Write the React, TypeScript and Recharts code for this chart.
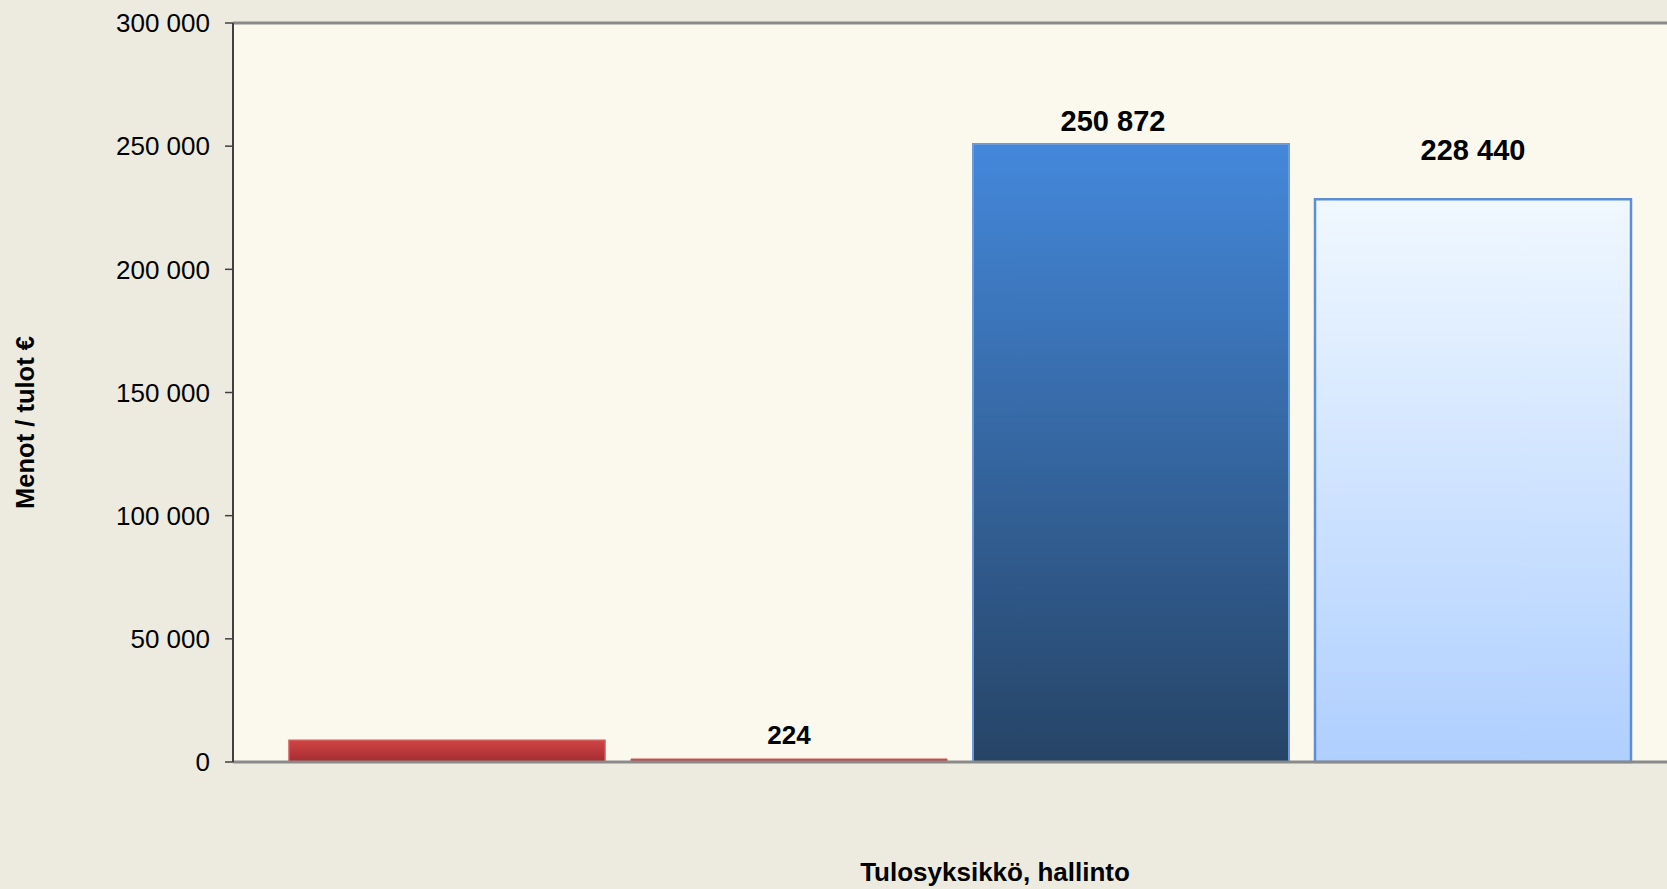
import React from 'react';
import { BarChart, Bar, XAxis, YAxis, CartesianGrid, ReferenceLine, LabelList } from 'recharts';

// ---- data ----
const categories = ['Tulosyksikkö, hallinto'];
const seriesA = [8800];
const seriesB = [224];
const seriesC = [250872];
const seriesD = [228440];
const yTicks = [0, 50000, 100000, 150000, 200000, 250000, 300000];
const yAxisTitle = 'Menot / tulot €';

const data = categories.map((name, i) => ({
  name,
  a: seriesA[i],
  b: seriesB[i],
  c: seriesC[i],
  d: seriesD[i],
}));

const FONT = '"Liberation Sans", Arial, Helvetica, sans-serif';
const fmt = (v: number) => String(v).replace(/\B(?=(\d{3})+(?!\d))/g, ' ');

const makeLabel = (dx: number, dy: number, size: number) => (props: any) => {
  const { x, y, width, value } = props;
  return (
    <text
      x={Number(x) + Number(width) / 2 + dx}
      y={Number(y) + dy}
      textAnchor="middle"
      fontFamily={FONT}
      fontWeight="bold"
      fontSize={size}
      fill="#000"
    >
      {fmt(Number(value))}
    </text>
  );
};

const CategoryTick = (props: any) => {
  const { x, y, payload } = props;
  return (
    <text
      x={Number(x) + 35}
      y={Number(y) + 119}
      textAnchor="middle"
      fontFamily={FONT}
      fontWeight="bold"
      fontSize={26}
      fill="#000"
    >
      {payload.value}
    </text>
  );
};

const YTitle = (props: any) => {
  const vb = props.viewBox || {};
  const cx = 25;
  const cy = Number(vb.y) + Number(vb.height) / 2 + 30;
  return (
    <text
      x={cx}
      y={cy}
      transform={`rotate(-90 ${cx} ${cy})`}
      textAnchor="middle"
      dominantBaseline="central"
      fontFamily={FONT}
      fontWeight="bold"
      fontSize={25.5}
      fill="#000"
    >
      {yAxisTitle}
    </text>
  );
};

export default function App() {
  return (
    <div
      style={{
        position: 'fixed',
        left: 0,
        top: 0,
        width: 1667,
        height: 889,
        overflow: 'hidden',
        background: '#EDEBE0',
      }}
    >
      <BarChart
        width={1700}
        height={889}
        data={data}
        margin={{ top: 23, right: 13, bottom: 0, left: 0 }}
        barCategoryGap={56}
        barGap={26}
      >
        <defs>
          <linearGradient id="gRed" x1="0" y1="0" x2="0" y2="1">
            <stop offset="0%" stopColor="#D04444" />
            <stop offset="100%" stopColor="#A32C30" />
          </linearGradient>
          <linearGradient id="gBlue" x1="0" y1="0" x2="0" y2="1">
            <stop offset="0%" stopColor="#4488DB" />
            <stop offset="100%" stopColor="#264466" />
          </linearGradient>
          <linearGradient id="gLight" x1="0" y1="0" x2="0" y2="1">
            <stop offset="0%" stopColor="#F0F8FF" />
            <stop offset="100%" stopColor="#AFCFFF" />
          </linearGradient>
        </defs>
        <CartesianGrid horizontal={false} vertical={false} fill="#FBF9EE" stroke="none" />
        <XAxis
          dataKey="name"
          height={127}
          tickLine={false}
          tickSize={0}
          tickMargin={0}
          axisLine={{ stroke: '#8A8A8A', strokeWidth: 3 }}
          tick={<CategoryTick />}
        />
        <YAxis
          width={233}
          domain={[0, 300000]}
          ticks={yTicks}
          interval={0}
          tickFormatter={fmt}
          tickSize={8}
          tickMargin={15}
          axisLine={{ stroke: '#404040', strokeWidth: 2 }}
          tickLine={{ stroke: '#404040', strokeWidth: 1.5 }}
          tick={{ fontFamily: FONT, fontSize: 26, fill: '#000' }}
          label={<YTitle />}
        />
        <ReferenceLine y={300000} stroke="#8A8A8A" strokeWidth={3} ifOverflow="extendDomain" />
        <Bar dataKey="a" fill="url(#gRed)" stroke="#D55A5A" strokeWidth={1.5} isAnimationActive={false} />
        <Bar dataKey="b" fill="#C84848" stroke="#CC5050" strokeWidth={1} minPointSize={3} isAnimationActive={false}>
          <LabelList dataKey="b" content={makeLabel(0, -15, 26)} />
        </Bar>
        <Bar dataKey="c" fill="url(#gBlue)" stroke="#6A9BDB" strokeWidth={2} isAnimationActive={false}>
          <LabelList dataKey="c" content={makeLabel(-18, -13, 29)} />
        </Bar>
        <Bar dataKey="d" fill="url(#gLight)" stroke="#5B8ED5" strokeWidth={2.5} isAnimationActive={false}>
          <LabelList dataKey="d" content={makeLabel(0, -39, 29)} />
        </Bar>
      </BarChart>
    </div>
  );
}
